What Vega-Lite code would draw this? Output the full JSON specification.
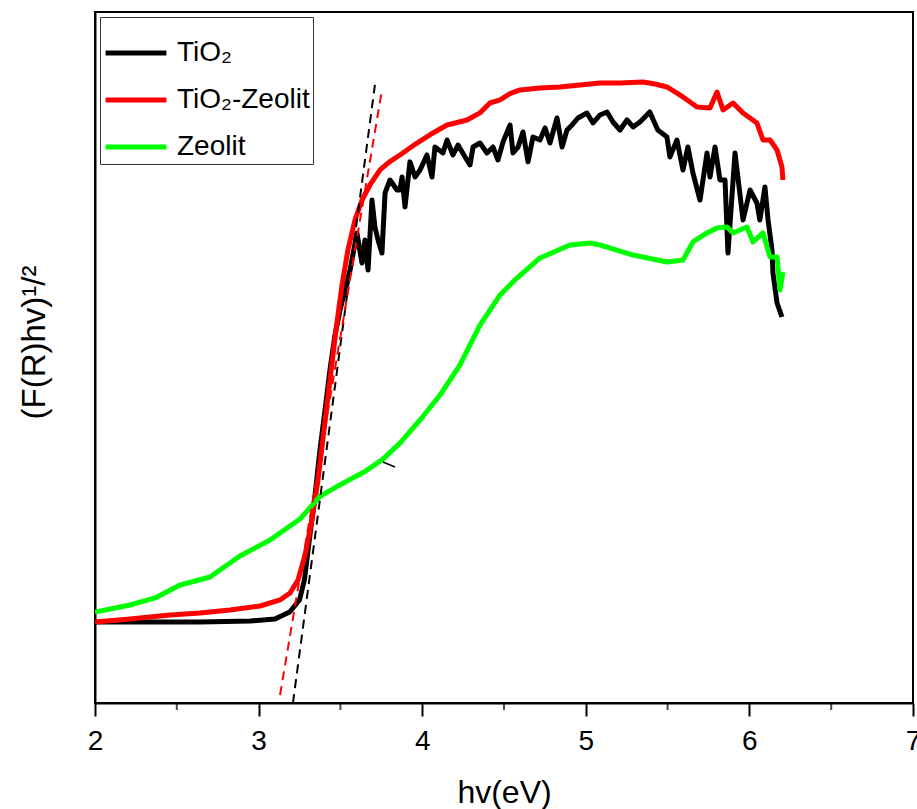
{
  "$schema": "https://vega.github.io/schema/vega-lite/v6.json",
  "autosize": "none",
  "width": 818,
  "height": 691,
  "padding": {"left": 95, "top": 12, "right": 4, "bottom": 106},
  "background": "white",
  "config": {
    "font": "Liberation Sans",
    "view": {"stroke": "black", "strokeWidth": 2}
  },
  "datasets": {
    "curves": [
      {"s": "TiO₂", "hv": 2.00, "y": 11.72}, {"s": "TiO₂", "hv": 2.34, "y": 11.72}, {"s": "TiO₂", "hv": 2.64, "y": 11.72}, {"s": "TiO₂", "hv": 2.95, "y": 11.87}, {"s": "TiO₂", "hv": 3.10, "y": 12.16}, {"s": "TiO₂", "hv": 3.19, "y": 13.17}, {"s": "TiO₂", "hv": 3.25, "y": 14.91}, {"s": "TiO₂", "hv": 3.28, "y": 17.8}, {"s": "TiO₂", "hv": 3.31, "y": 23.59}, {"s": "TiO₂", "hv": 3.345, "y": 30.1}, {"s": "TiO₂", "hv": 3.375, "y": 36.61}, {"s": "TiO₂", "hv": 3.406, "y": 42.4}, {"s": "TiO₂", "hv": 3.436, "y": 48.19}, {"s": "TiO₂", "hv": 3.467, "y": 53.26}, {"s": "TiO₂", "hv": 3.498, "y": 56.88}, {"s": "TiO₂", "hv": 3.528, "y": 59.77}, {"s": "TiO₂", "hv": 3.559, "y": 62.66}, {"s": "TiO₂", "hv": 3.601, "y": 68.02}, {"s": "TiO₂", "hv": 3.632, "y": 63.68}, {"s": "TiO₂", "hv": 3.65, "y": 67.01}, {"s": "TiO₂", "hv": 3.669, "y": 62.66}, {"s": "TiO₂", "hv": 3.693, "y": 72.79}, {"s": "TiO₂", "hv": 3.711, "y": 68.89}, {"s": "TiO₂", "hv": 3.73, "y": 67.01}, {"s": "TiO₂", "hv": 3.754, "y": 65.12}, {"s": "TiO₂", "hv": 3.773, "y": 73.81}, {"s": "TiO₂", "hv": 3.803, "y": 75.69}, {"s": "TiO₂", "hv": 3.846, "y": 74.24}, {"s": "TiO₂", "hv": 3.864, "y": 74.24}, {"s": "TiO₂", "hv": 3.877, "y": 76.12}, {"s": "TiO₂", "hv": 3.895, "y": 71.78}, {"s": "TiO₂", "hv": 3.925, "y": 78.31}, {"s": "TiO₂", "hv": 3.956, "y": 76.12}, {"s": "TiO₂", "hv": 3.987, "y": 77.14}, {"s": "TiO₂", "hv": 4.029, "y": 79.31}, {"s": "TiO₂", "hv": 4.06, "y": 76.12}, {"s": "TiO₂", "hv": 4.078, "y": 80.46}, {"s": "TiO₂", "hv": 4.127, "y": 79.6}, {"s": "TiO₂", "hv": 4.152, "y": 81.48}, {"s": "TiO₂", "hv": 4.188, "y": 79.31}, {"s": "TiO₂", "hv": 4.219, "y": 80.75}, {"s": "TiO₂", "hv": 4.262, "y": 79.02}, {"s": "TiO₂", "hv": 4.292, "y": 77.86}, {"s": "TiO₂", "hv": 4.311, "y": 80.46}, {"s": "TiO₂", "hv": 4.353, "y": 81.04}, {"s": "TiO₂", "hv": 4.396, "y": 79.6}, {"s": "TiO₂", "hv": 4.433, "y": 80.46}, {"s": "TiO₂", "hv": 4.463, "y": 78.58}, {"s": "TiO₂", "hv": 4.494, "y": 81.19}, {"s": "TiO₂", "hv": 4.537, "y": 83.65}, {"s": "TiO₂", "hv": 4.555, "y": 79.6}, {"s": "TiO₂", "hv": 4.586, "y": 80.46}, {"s": "TiO₂", "hv": 4.616, "y": 82.64}, {"s": "TiO₂", "hv": 4.647, "y": 78.31}, {"s": "TiO₂", "hv": 4.677, "y": 81.91}, {"s": "TiO₂", "hv": 4.72, "y": 81.48}, {"s": "TiO₂", "hv": 4.751, "y": 83.22}, {"s": "TiO₂", "hv": 4.781, "y": 81.04}, {"s": "TiO₂", "hv": 4.824, "y": 84.66}, {"s": "TiO₂", "hv": 4.855, "y": 80.46}, {"s": "TiO₂", "hv": 4.885, "y": 82.92}, {"s": "TiO₂", "hv": 4.916, "y": 83.65}, {"s": "TiO₂", "hv": 4.952, "y": 84.66}, {"s": "TiO₂", "hv": 5.007, "y": 85.38}, {"s": "TiO₂", "hv": 5.044, "y": 83.94}, {"s": "TiO₂", "hv": 5.087, "y": 85.1}, {"s": "TiO₂", "hv": 5.13, "y": 85.53}, {"s": "TiO₂", "hv": 5.166, "y": 84.08}, {"s": "TiO₂", "hv": 5.209, "y": 82.92}, {"s": "TiO₂", "hv": 5.252, "y": 84.37}, {"s": "TiO₂", "hv": 5.289, "y": 83.36}, {"s": "TiO₂", "hv": 5.331, "y": 84.08}, {"s": "TiO₂", "hv": 5.391, "y": 85.53}, {"s": "TiO₂", "hv": 5.44, "y": 82.92}, {"s": "TiO₂", "hv": 5.496, "y": 81.91}, {"s": "TiO₂", "hv": 5.514, "y": 79.02}, {"s": "TiO₂", "hv": 5.557, "y": 81.48}, {"s": "TiO₂", "hv": 5.594, "y": 77.14}, {"s": "TiO₂", "hv": 5.624, "y": 80.46}, {"s": "TiO₂", "hv": 5.655, "y": 76.7}, {"s": "TiO₂", "hv": 5.698, "y": 72.79}, {"s": "TiO₂", "hv": 5.741, "y": 79.6}, {"s": "TiO₂", "hv": 5.759, "y": 76.12}, {"s": "TiO₂", "hv": 5.79, "y": 80.46}, {"s": "TiO₂", "hv": 5.82, "y": 75.69}, {"s": "TiO₂", "hv": 5.851, "y": 75.69}, {"s": "TiO₂", "hv": 5.869, "y": 65.12}, {"s": "TiO₂", "hv": 5.912, "y": 79.6}, {"s": "TiO₂", "hv": 5.961, "y": 69.9}, {"s": "TiO₂", "hv": 6.004, "y": 74.24}, {"s": "TiO₂", "hv": 6.046, "y": 72.36}, {"s": "TiO₂", "hv": 6.064, "y": 69.9}, {"s": "TiO₂", "hv": 6.095, "y": 74.68}, {"s": "TiO₂", "hv": 6.114, "y": 69.9}, {"s": "TiO₂", "hv": 6.138, "y": 65.56}, {"s": "TiO₂", "hv": 6.144, "y": 62.23}, {"s": "TiO₂", "hv": 6.169, "y": 57.89}, {"s": "TiO₂", "hv": 6.199, "y": 55.86},

      {"s": "TiO₂-Zeolit", "hv": 2.0, "y": 11.72}, {"s": "TiO₂-Zeolit", "hv": 2.214, "y": 12.16}, {"s": "TiO₂-Zeolit", "hv": 2.458, "y": 12.74}, {"s": "TiO₂-Zeolit", "hv": 2.642, "y": 13.02}, {"s": "TiO₂-Zeolit", "hv": 2.825, "y": 13.46}, {"s": "TiO₂-Zeolit", "hv": 3.009, "y": 14.04}, {"s": "TiO₂-Zeolit", "hv": 3.131, "y": 14.91}, {"s": "TiO₂-Zeolit", "hv": 3.192, "y": 15.92}, {"s": "TiO₂-Zeolit", "hv": 3.241, "y": 17.8}, {"s": "TiO₂-Zeolit", "hv": 3.284, "y": 21.42}, {"s": "TiO₂-Zeolit", "hv": 3.326, "y": 26.48}, {"s": "TiO₂-Zeolit", "hv": 3.363, "y": 32.27}, {"s": "TiO₂-Zeolit", "hv": 3.4, "y": 39.51}, {"s": "TiO₂-Zeolit", "hv": 3.436, "y": 46.74}, {"s": "TiO₂-Zeolit", "hv": 3.473, "y": 53.98}, {"s": "TiO₂-Zeolit", "hv": 3.51, "y": 60.49}, {"s": "TiO₂-Zeolit", "hv": 3.546, "y": 65.56}, {"s": "TiO₂-Zeolit", "hv": 3.589, "y": 69.9}, {"s": "TiO₂-Zeolit", "hv": 3.632, "y": 72.79}, {"s": "TiO₂-Zeolit", "hv": 3.681, "y": 74.97}, {"s": "TiO₂-Zeolit", "hv": 3.742, "y": 77.14}, {"s": "TiO₂-Zeolit", "hv": 3.8, "y": 78.3}, {"s": "TiO₂-Zeolit", "hv": 3.864, "y": 79.31}, {"s": "TiO₂-Zeolit", "hv": 3.968, "y": 81.04}, {"s": "TiO₂-Zeolit", "hv": 4.066, "y": 82.49}, {"s": "TiO₂-Zeolit", "hv": 4.152, "y": 83.65}, {"s": "TiO₂-Zeolit", "hv": 4.274, "y": 84.37}, {"s": "TiO₂-Zeolit", "hv": 4.353, "y": 85.4}, {"s": "TiO₂-Zeolit", "hv": 4.414, "y": 86.83}, {"s": "TiO₂-Zeolit", "hv": 4.476, "y": 87.3}, {"s": "TiO₂-Zeolit", "hv": 4.537, "y": 88.2}, {"s": "TiO₂-Zeolit", "hv": 4.598, "y": 88.72}, {"s": "TiO₂-Zeolit", "hv": 4.72, "y": 89.0}, {"s": "TiO₂-Zeolit", "hv": 4.842, "y": 89.15}, {"s": "TiO₂-Zeolit", "hv": 4.965, "y": 89.44}, {"s": "TiO₂-Zeolit", "hv": 5.087, "y": 89.73}, {"s": "TiO₂-Zeolit", "hv": 5.209, "y": 89.73}, {"s": "TiO₂-Zeolit", "hv": 5.35, "y": 89.87}, {"s": "TiO₂-Zeolit", "hv": 5.423, "y": 89.58}, {"s": "TiO₂-Zeolit", "hv": 5.496, "y": 89.15}, {"s": "TiO₂-Zeolit", "hv": 5.594, "y": 87.7}, {"s": "TiO₂-Zeolit", "hv": 5.68, "y": 86.25}, {"s": "TiO₂-Zeolit", "hv": 5.759, "y": 86.11}, {"s": "TiO₂-Zeolit", "hv": 5.802, "y": 88.42}, {"s": "TiO₂-Zeolit", "hv": 5.839, "y": 85.82}, {"s": "TiO₂-Zeolit", "hv": 5.9, "y": 86.83}, {"s": "TiO₂-Zeolit", "hv": 5.961, "y": 85.38}, {"s": "TiO₂-Zeolit", "hv": 6.046, "y": 83.94}, {"s": "TiO₂-Zeolit", "hv": 6.083, "y": 81.48}, {"s": "TiO₂-Zeolit", "hv": 6.126, "y": 81.48}, {"s": "TiO₂-Zeolit", "hv": 6.169, "y": 80.03}, {"s": "TiO₂-Zeolit", "hv": 6.199, "y": 77.57}, {"s": "TiO₂-Zeolit", "hv": 6.205, "y": 75.69},

      {"s": "Zeolit", "hv": 2.0, "y": 13.17}, {"s": "Zeolit", "hv": 2.214, "y": 14.18}, {"s": "Zeolit", "hv": 2.367, "y": 15.2}, {"s": "Zeolit", "hv": 2.52, "y": 17.08}, {"s": "Zeolit", "hv": 2.703, "y": 18.23}, {"s": "Zeolit", "hv": 2.886, "y": 21.27}, {"s": "Zeolit", "hv": 3.07, "y": 23.59}, {"s": "Zeolit", "hv": 3.253, "y": 26.62}, {"s": "Zeolit", "hv": 3.375, "y": 29.9}, {"s": "Zeolit", "hv": 3.5, "y": 31.6}, {"s": "Zeolit", "hv": 3.65, "y": 33.5}, {"s": "Zeolit", "hv": 3.76, "y": 35.3}, {"s": "Zeolit", "hv": 3.864, "y": 37.6}, {"s": "Zeolit", "hv": 3.987, "y": 40.96}, {"s": "Zeolit", "hv": 4.109, "y": 44.57}, {"s": "Zeolit", "hv": 4.231, "y": 48.92}, {"s": "Zeolit", "hv": 4.353, "y": 54.7}, {"s": "Zeolit", "hv": 4.476, "y": 59.05}, {"s": "Zeolit", "hv": 4.567, "y": 61.22}, {"s": "Zeolit", "hv": 4.72, "y": 64.4}, {"s": "Zeolit", "hv": 4.903, "y": 66.28}, {"s": "Zeolit", "hv": 5.026, "y": 66.57}, {"s": "Zeolit", "hv": 5.087, "y": 66.28}, {"s": "Zeolit", "hv": 5.289, "y": 64.83}, {"s": "Zeolit", "hv": 5.496, "y": 63.82}, {"s": "Zeolit", "hv": 5.594, "y": 64.11}, {"s": "Zeolit", "hv": 5.655, "y": 66.72}, {"s": "Zeolit", "hv": 5.741, "y": 68.02}, {"s": "Zeolit", "hv": 5.802, "y": 68.74}, {"s": "Zeolit", "hv": 5.863, "y": 68.89}, {"s": "Zeolit", "hv": 5.9, "y": 68.02}, {"s": "Zeolit", "hv": 5.985, "y": 68.89}, {"s": "Zeolit", "hv": 6.022, "y": 66.72}, {"s": "Zeolit", "hv": 6.083, "y": 68.02}, {"s": "Zeolit", "hv": 6.126, "y": 64.54}, {"s": "Zeolit", "hv": 6.169, "y": 64.54}, {"s": "Zeolit", "hv": 6.187, "y": 59.77}, {"s": "Zeolit", "hv": 6.205, "y": 62.37}
    ],
    "fits": [
      {"fit": "TiO₂", "hv": 3.21, "y": 0.0}, {"fit": "TiO₂", "hv": 3.711, "y": 89.44},
      {"fit": "TiO₂-Zeolit", "hv": 3.131, "y": 1.16}, {"fit": "TiO₂-Zeolit", "hv": 3.754, "y": 88.71},
      {"fit": "Zeolit", "hv": 3.76, "y": 34.88}, {"fit": "Zeolit", "hv": 3.834, "y": 34.15}
    ]
  },
  "layer": [
    {
      "data": {"name": "curves"},
      "mark": {"type": "line", "strokeWidth": 5, "strokeJoin": "round", "clip": true},
      "encoding": {
        "x": {
          "field": "hv", "type": "quantitative",
          "scale": {"domain": [2, 7], "nice": false, "zero": false},
          "axis": {
            "title": "hv(eV)", "titleFontSize": 32, "titleFontWeight": "normal", "titleColor": "black", "titlePadding": 22,
            "values": [2, 3, 4, 5, 6, 7], "format": "d", "labelFontSize": 28, "labelColor": "black", "labelPadding": 11, "labelFlush": false,
            "domainColor": "black", "domainWidth": 2, "tickColor": "black", "tickWidth": 2, "tickSize": 13,
            "grid": false
          }
        },
        "y": {
          "field": "y", "type": "quantitative",
          "scale": {"domain": [0, 100], "nice": false},
          "axis": {
            "title": "(F(R)hv)¹/²", "titleFontSize": 33, "titleFontWeight": "normal", "titleColor": "black", "titlePadding": 44, "titleY": 330,
            "labels": false, "ticks": false, "grid": false, "domainColor": "black", "domainWidth": 2
          }
        },
        "color": {
          "field": "s", "type": "nominal",
          "scale": {"domain": ["TiO₂", "TiO₂-Zeolit", "Zeolit"], "range": ["black", "#ff0000", "#00ff00"]},
          "legend": {
            "title": null, "orient": "top-left", "offset": 5,
            "labelFontSize": 28, "labelColor": "black", "labelOffset": 8,
            "symbolType": "stroke", "symbolSize": 3700, "symbolStrokeWidth": 5,
            "rowPadding": 0, "padding": 3, "strokeColor": "#333", "fillColor": "white"
          }
        },
        "order": {"field": "hv", "type": "quantitative"}
      }
    },
    {
      "data": {"name": "fits"},
      "transform": [{"filter": "datum.fit === 'TiO₂'"}],
      "mark": {"type": "line", "color": "black", "strokeWidth": 2, "strokeDash": [9, 6]},
      "encoding": {
        "x": {"field": "hv", "type": "quantitative"},
        "y": {"field": "y", "type": "quantitative"}
      }
    },
    {
      "data": {"name": "fits"},
      "transform": [{"filter": "datum.fit === 'TiO₂-Zeolit'"}],
      "mark": {"type": "line", "color": "#ff0000", "strokeWidth": 2, "strokeDash": [9, 6]},
      "encoding": {
        "x": {"field": "hv", "type": "quantitative"},
        "y": {"field": "y", "type": "quantitative"}
      }
    },
    {
      "data": {"name": "fits"},
      "transform": [{"filter": "datum.fit === 'Zeolit'"}],
      "mark": {"type": "line", "color": "black", "strokeWidth": 1.5},
      "encoding": {
        "x": {"field": "hv", "type": "quantitative"},
        "y": {"field": "y", "type": "quantitative"}
      }
    },
    {
      "data": {"values": [{"hv": 2.5}, {"hv": 3.5}, {"hv": 4.5}, {"hv": 5.5}, {"hv": 6.5}]},
      "mark": {"type": "tick", "orient": "vertical", "color": "black", "thickness": 2, "size": 7, "yOffset": 3.5},
      "encoding": {
        "x": {"field": "hv", "type": "quantitative"},
        "y": {"datum": 0, "type": "quantitative"}
      }
    }
  ]
}
